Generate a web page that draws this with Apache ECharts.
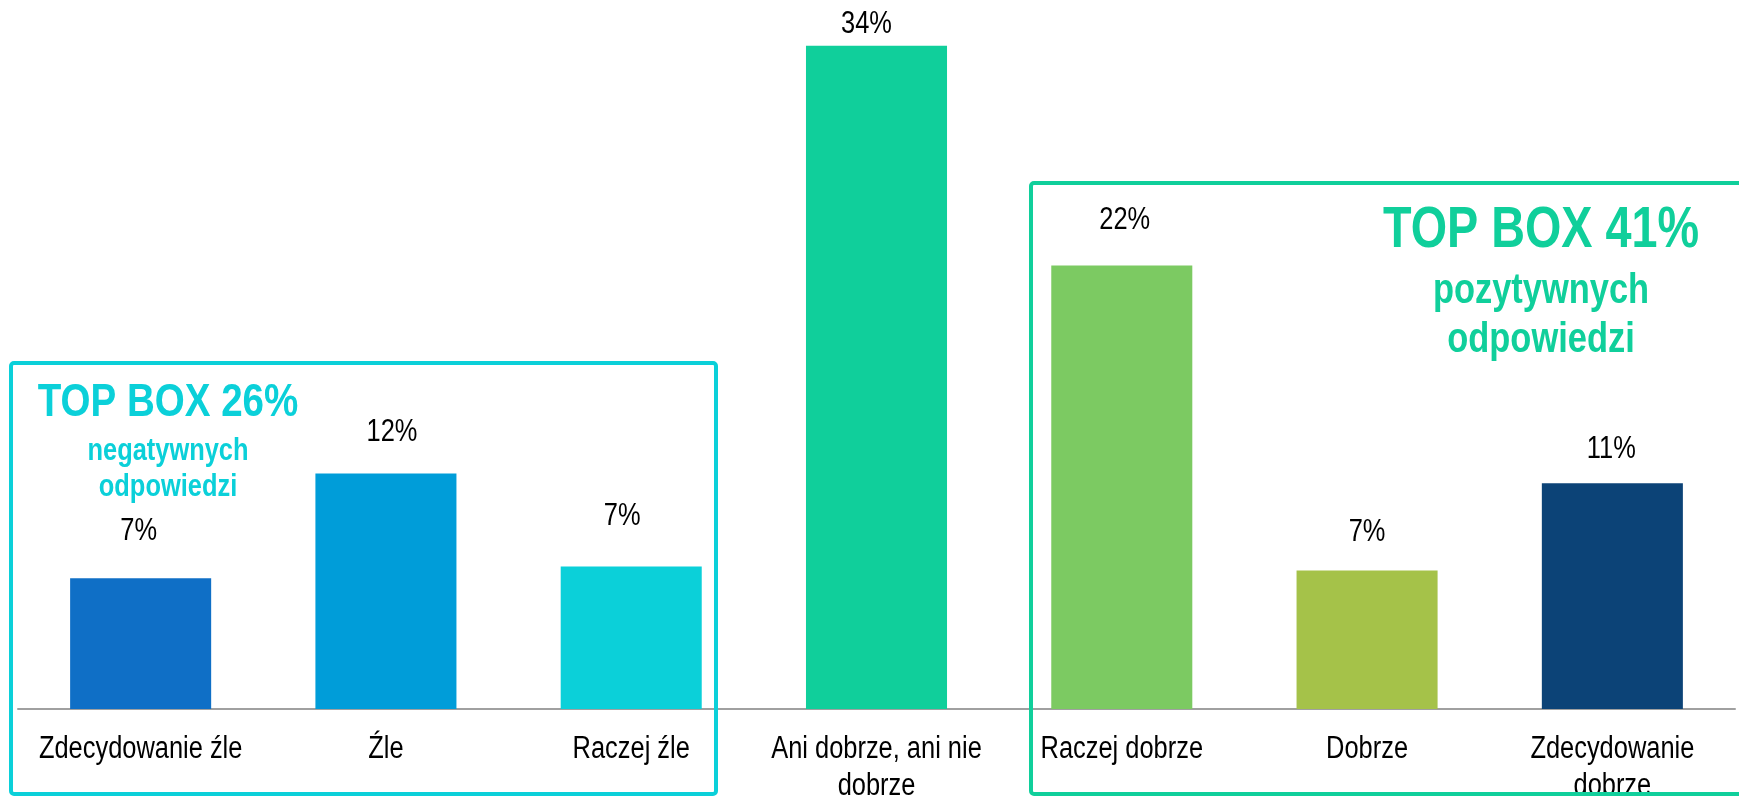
<!DOCTYPE html>
<html>
<head>
<meta charset="utf-8">
<script src="https://cdn.jsdelivr.net/npm/echarts@6/dist/echarts.min.js"></script>
<style>
  html, body { margin: 0; padding: 0; background: #ffffff; }
  #chart { width: 1739px; height: 796px; }
</style>
</head>
<body>
<div id="chart"></div>
<script>
// Answer scale, from worst to best
const categories = [
  'Zdecydowanie źle',
  'Źle',
  'Raczej źle',
  'Ani dobrze, ani nie dobrze',
  'Raczej dobrze',
  'Dobrze',
  'Zdecydowanie dobrze'
];

// Share of answers, in percent
const shares = [6.6, 11.9, 7.2, 33.5, 22.4, 7.0, 11.4];

// Which answers make up the negative and the positive groups
const negativeIdx = [0, 1, 2];
const positiveIdx = [4, 5, 6];

// Styling
const FAMILY = "'Liberation Sans', Arial, sans-serif";
const NARROW = 0.82;            // horizontal squeeze giving a narrow typeface look
const barColors = ['#0F6FC6', '#009DD9', '#0BD0D9', '#10CF9B', '#7CCA62', '#A5C249', '#0C4377'];
const labelLift = [31, 25, 34, 6, 30, 22, 18];
const labelShift = [-2, 6, -9, -10, 3, 0, -1];
const NEG_COLOR = '#0BD0D9';
const POS_COLOR = '#10CF9B';
const LABEL_SIZE = 31;
const CAT_LINE = 37;
const CAT_MAX_W = 235;

const sumOf = idx => idx.reduce((s, i) => s + shares[i], 0);
const negTotal = Math.round(sumOf(negativeIdx));
const posTotal = Math.round(sumOf(positiveIdx));

const chart = echarts.init(document.getElementById('chart'), null, { renderer: 'canvas' });

chart.setOption({
  backgroundColor: '#ffffff',
  animation: false,
  grid: { left: 18, right: 4, top: 16, bottom: 87, containLabel: false },
  xAxis: {
    type: 'category',
    data: categories,
    axisLine: { show: true, lineStyle: { color: '#a0a0a0', width: 2 } },
    axisTick: { show: false },
    axisLabel: { show: false }
  },
  yAxis: {
    type: 'value',
    min: 0,
    max: 35,
    show: false,
    splitLine: { show: false }
  },
  series: [{
    type: 'bar',
    barWidth: '57.5%',
    data: shares.map((v, i) => ({ value: v, itemStyle: { color: barColors[i] } }))
  }]
});

// Narrow text helper: squeezed horizontally around its anchor point
function narrowText(text, x, y, size, color, bold, z) {
  return {
    type: 'text', z: z || 50, x: x, y: y, scaleX: NARROW, scaleY: 1,
    style: {
      text: text, fill: color,
      font: (bold ? 'bold ' : '') + size + 'px ' + FAMILY,
      align: 'center', verticalAlign: 'middle'
    }
  };
}

// Greedy word wrap using the squeezed text width
const measureCtx = document.createElement('canvas').getContext('2d');
function wrapWords(text, size, maxW) {
  measureCtx.font = size + 'px ' + FAMILY;
  const words = text.split(' ');
  const lines = [];
  let cur = '';
  words.forEach(w => {
    const trial = cur ? cur + ' ' + w : w;
    if (cur && measureCtx.measureText(trial).width * NARROW > maxW) {
      lines.push(cur);
      cur = w;
    } else {
      cur = trial;
    }
  });
  if (cur) lines.push(cur);
  return lines;
}

const graphics = [];

// Value labels above the bars and category names below the axis
const axisY = chart.convertToPixel({ yAxisIndex: 0 }, 0);
shares.forEach((v, i) => {
  const top = chart.convertToPixel({ seriesIndex: 0 }, [i, v]);
  graphics.push(narrowText(Math.round(v) + '%', top[0] + labelShift[i],
    top[1] - labelLift[i] - LABEL_SIZE / 2, LABEL_SIZE, '#000000', false));
  wrapWords(categories[i], LABEL_SIZE, CAT_MAX_W).forEach((line, k) => {
    graphics.push(narrowText(line, top[0], axisY + 40 + k * CAT_LINE, LABEL_SIZE, '#000000', false));
  });
});

// Negative group frame and caption
graphics.push({
  type: 'rect', z: 100,
  shape: { x: 11, y: 363, width: 705, height: 431, r: 3 },
  style: { fill: 'none', stroke: NEG_COLOR, lineWidth: 4 }
});
graphics.push(narrowText('TOP BOX ' + negTotal + '%', 168, 403, 47, NEG_COLOR, true, 100));
graphics.push(narrowText('negatywnych', 168, 451, 31, NEG_COLOR, true, 100));
graphics.push(narrowText('odpowiedzi', 168, 487, 31, NEG_COLOR, true, 100));

// Positive group frame and caption
graphics.push({
  type: 'rect', z: 100,
  shape: { x: 1031, y: 183, width: 720, height: 611, r: 3 },
  style: { fill: 'none', stroke: POS_COLOR, lineWidth: 4 }
});
graphics.push(narrowText('TOP BOX ' + posTotal + '%', 1541, 231, 57, POS_COLOR, true, 100));
graphics.push(narrowText('pozytywnych', 1541, 291, 42, POS_COLOR, true, 100));
graphics.push(narrowText('odpowiedzi', 1541, 340, 42, POS_COLOR, true, 100));

chart.setOption({ graphic: graphics });
</script>
</body>
</html>
